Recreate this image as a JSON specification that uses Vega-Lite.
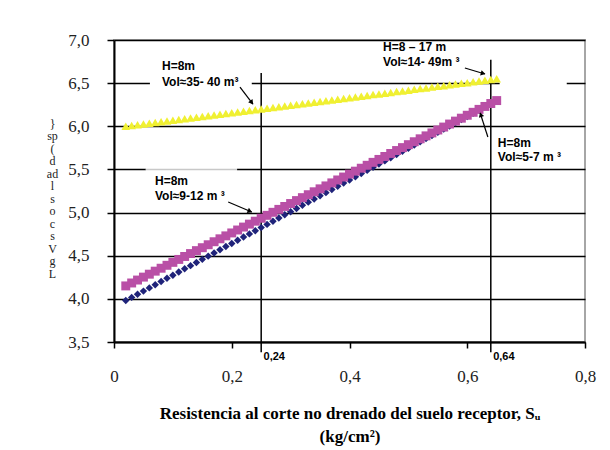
{
  "$schema": "https://vega.github.io/schema/vega-lite/v6.json",
  "width": 471,
  "height": 302,
  "autosize": "none",
  "padding": {"left": 114, "top": 40, "right": 25, "bottom": 108},
  "background": "white",
  "config": {"view": {"stroke": "#a6a6a6", "strokeWidth": 2}},
  "datasets": {
    "boxes": [
      {"x": 0.061, "x2": 0.234, "y": 6.79, "y2": 6.42},
      {"x": 0.655, "x2": 0.769, "y": 6.46, "y2": 6.54},
      {"x": 0.655, "x2": 0.79, "y": 5.95, "y2": 5.55},
      {"x": 0.054, "x2": 0.209, "y": 5.52, "y2": 5.15}
    ],
    "grayline": [{"x": 0.054, "x2": 0.209, "y": 5.5}],
    "vrules": [
      {"x": 0.25, "y": 6.618, "y2": 3.38},
      {"x": 0.64, "y": 6.77, "y2": 3.38}
    ],
    "navy": [
      {"x":0.02,"y":3.980},{"x":0.03,"y":4.017},{"x":0.04,"y":4.054},{"x":0.05,"y":4.090},{"x":0.06,"y":4.127},{"x":0.07,"y":4.164},{"x":0.08,"y":4.201},{"x":0.09,"y":4.238},{"x":0.10,"y":4.274},{"x":0.11,"y":4.311},
      {"x":0.12,"y":4.348},{"x":0.13,"y":4.385},{"x":0.14,"y":4.422},{"x":0.15,"y":4.458},{"x":0.16,"y":4.495},{"x":0.17,"y":4.532},{"x":0.18,"y":4.569},{"x":0.19,"y":4.606},{"x":0.20,"y":4.642},{"x":0.21,"y":4.679},
      {"x":0.22,"y":4.716},{"x":0.23,"y":4.753},{"x":0.24,"y":4.790},{"x":0.25,"y":4.826},{"x":0.26,"y":4.863},{"x":0.27,"y":4.900},{"x":0.28,"y":4.937},{"x":0.29,"y":4.974},{"x":0.30,"y":5.010},{"x":0.31,"y":5.047},
      {"x":0.32,"y":5.084},{"x":0.33,"y":5.121},{"x":0.34,"y":5.158},{"x":0.35,"y":5.194},{"x":0.36,"y":5.231},{"x":0.37,"y":5.268},{"x":0.38,"y":5.305},{"x":0.39,"y":5.342},{"x":0.40,"y":5.378},{"x":0.41,"y":5.415},
      {"x":0.42,"y":5.452},{"x":0.43,"y":5.489},{"x":0.44,"y":5.526},{"x":0.45,"y":5.562},{"x":0.46,"y":5.599},{"x":0.47,"y":5.636},{"x":0.48,"y":5.673},{"x":0.49,"y":5.710},{"x":0.50,"y":5.746},{"x":0.51,"y":5.783},
      {"x":0.52,"y":5.820},{"x":0.53,"y":5.857},{"x":0.54,"y":5.894},{"x":0.55,"y":5.930},{"x":0.56,"y":5.967},{"x":0.57,"y":6.004},{"x":0.58,"y":6.041},{"x":0.59,"y":6.078},{"x":0.60,"y":6.114},{"x":0.61,"y":6.151},
      {"x":0.62,"y":6.188},{"x":0.63,"y":6.225},{"x":0.64,"y":6.262}
    ],
    "pink": [
      {"x":0.02,"y":4.150},{"x":0.03,"y":4.184},{"x":0.04,"y":4.218},{"x":0.05,"y":4.252},{"x":0.06,"y":4.286},{"x":0.07,"y":4.321},{"x":0.08,"y":4.355},{"x":0.09,"y":4.389},{"x":0.10,"y":4.423},{"x":0.11,"y":4.457},
      {"x":0.12,"y":4.491},{"x":0.13,"y":4.525},{"x":0.14,"y":4.559},{"x":0.15,"y":4.593},{"x":0.16,"y":4.627},{"x":0.17,"y":4.662},{"x":0.18,"y":4.696},{"x":0.19,"y":4.730},{"x":0.20,"y":4.764},{"x":0.21,"y":4.798},
      {"x":0.22,"y":4.832},{"x":0.23,"y":4.866},{"x":0.24,"y":4.900},{"x":0.25,"y":4.934},{"x":0.26,"y":4.968},{"x":0.27,"y":5.003},{"x":0.28,"y":5.037},{"x":0.29,"y":5.071},{"x":0.30,"y":5.105},{"x":0.31,"y":5.139},
      {"x":0.32,"y":5.173},{"x":0.33,"y":5.207},{"x":0.34,"y":5.241},{"x":0.35,"y":5.275},{"x":0.36,"y":5.309},{"x":0.37,"y":5.344},{"x":0.38,"y":5.378},{"x":0.39,"y":5.412},{"x":0.40,"y":5.446},{"x":0.41,"y":5.480},
      {"x":0.42,"y":5.514},{"x":0.43,"y":5.548},{"x":0.44,"y":5.582},{"x":0.45,"y":5.616},{"x":0.46,"y":5.650},{"x":0.47,"y":5.685},{"x":0.48,"y":5.719},{"x":0.49,"y":5.753},{"x":0.50,"y":5.787},{"x":0.51,"y":5.821},
      {"x":0.52,"y":5.855},{"x":0.53,"y":5.889},{"x":0.54,"y":5.923},{"x":0.55,"y":5.957},{"x":0.56,"y":5.991},{"x":0.57,"y":6.026},{"x":0.58,"y":6.060},{"x":0.59,"y":6.094},{"x":0.60,"y":6.128},{"x":0.61,"y":6.162},
      {"x":0.62,"y":6.196},{"x":0.63,"y":6.230},{"x":0.64,"y":6.264},{"x":0.65,"y":6.298}
    ],
    "yellow": [
      {"x":0.02,"y":6.000},{"x":0.03,"y":6.009},{"x":0.04,"y":6.017},{"x":0.05,"y":6.026},{"x":0.06,"y":6.035},{"x":0.07,"y":6.044},{"x":0.08,"y":6.052},{"x":0.09,"y":6.061},{"x":0.10,"y":6.070},{"x":0.11,"y":6.079},
      {"x":0.12,"y":6.087},{"x":0.13,"y":6.096},{"x":0.14,"y":6.105},{"x":0.15,"y":6.113},{"x":0.16,"y":6.122},{"x":0.17,"y":6.131},{"x":0.18,"y":6.140},{"x":0.19,"y":6.148},{"x":0.20,"y":6.157},{"x":0.21,"y":6.166},
      {"x":0.22,"y":6.175},{"x":0.23,"y":6.183},{"x":0.24,"y":6.192},{"x":0.25,"y":6.201},{"x":0.26,"y":6.210},{"x":0.27,"y":6.218},{"x":0.28,"y":6.227},{"x":0.29,"y":6.236},{"x":0.30,"y":6.244},{"x":0.31,"y":6.253},
      {"x":0.32,"y":6.262},{"x":0.33,"y":6.271},{"x":0.34,"y":6.279},{"x":0.35,"y":6.288},{"x":0.36,"y":6.297},{"x":0.37,"y":6.306},{"x":0.38,"y":6.314},{"x":0.39,"y":6.323},{"x":0.40,"y":6.332},{"x":0.41,"y":6.340},
      {"x":0.42,"y":6.349},{"x":0.43,"y":6.358},{"x":0.44,"y":6.367},{"x":0.45,"y":6.375},{"x":0.46,"y":6.384},{"x":0.47,"y":6.393},{"x":0.48,"y":6.402},{"x":0.49,"y":6.410},{"x":0.50,"y":6.419},{"x":0.51,"y":6.428},
      {"x":0.52,"y":6.437},{"x":0.53,"y":6.445},{"x":0.54,"y":6.454},{"x":0.55,"y":6.463},{"x":0.56,"y":6.471},{"x":0.57,"y":6.480},{"x":0.58,"y":6.489},{"x":0.59,"y":6.498},{"x":0.60,"y":6.506},{"x":0.61,"y":6.515},
      {"x":0.62,"y":6.524},{"x":0.63,"y":6.533},{"x":0.64,"y":6.541},{"x":0.65,"y":6.550}
    ],
    "arrows": [
      {"x": 0.214, "y": 6.455, "x2": 0.236, "y2": 6.258},
      {"x": 0.596, "y": 6.676, "x2": 0.630, "y2": 6.606},
      {"x": 0.635, "y": 5.876, "x2": 0.622, "y2": 6.154},
      {"x": 0.194, "y": 5.123, "x2": 0.234, "y2": 5.007}
    ],
    "heads": [
      {"x": 0.234, "y": 6.275, "a": 142.6},
      {"x": 0.627, "y": 6.612, "a": 105.3},
      {"x": 0.623, "y": 6.135, "a": 341.6},
      {"x": 0.231, "y": 5.015, "a": 112.6}
    ],
    "labels": [
      {"x": 0.0815, "y": 6.699, "t": "H=8m"},
      {"x": 0.0815, "y": 6.513, "t": "Vol≈35- 40 m³"},
      {"x": 0.457, "y": 6.919, "t": "H=8 – 17 m"},
      {"x": 0.457, "y": 6.745, "t": "Vol≈14- 49m ³"},
      {"x": 0.652, "y": 5.806, "t": "H=8m"},
      {"x": 0.652, "y": 5.644, "t": "Vol≈5-7 m ³"},
      {"x": 0.0696, "y": 5.366, "t": "H=8m"},
      {"x": 0.0696, "y": 5.192, "t": "Vol≈9-12 m ³"}
    ],
    "ticklabels": [
      {"x": 0.254, "y": 3.40, "t": "0,24"},
      {"x": 0.644, "y": 3.40, "t": "0,64"}
    ]
  },
  "encoding": {
    "x": {
      "field": "x", "type": "quantitative",
      "scale": {"domain": [0, 0.8], "nice": false, "zero": false},
      "axis": {
        "values": [0, 0.2, 0.4, 0.6, 0.8],
        "labelExpr": "datum.value == 0 ? '0' : replace(format(datum.value, '.1f'), '.', ',')",
        "grid": false,
        "domainColor": "black", "domainWidth": 2,
        "tickColor": "black", "tickSize": 6, "tickWidth": 1.5,
        "labelFont": "Liberation Serif", "labelFontSize": 17, "labelColor": "#222222", "labelPadding": 20,
        "labelFlush": false,
        "title": ["Resistencia al corte no drenado del suelo receptor, Sᵤ", "(kg/cm²)"],
        "titleFont": "Liberation Serif", "titleFontSize": 17, "titleFontWeight": "bold", "titleColor": "black",
        "titleY": 76, "titleBaseline": "alphabetic", "titleLineHeight": 23
      }
    },
    "y": {
      "field": "y", "type": "quantitative",
      "scale": {"domain": [3.5, 7], "nice": false, "zero": false},
      "axis": {
        "values": [3.5, 4, 4.5, 5, 5.5, 6, 6.5, 7],
        "labelExpr": "replace(format(datum.value, '.1f'), '.', ',')",
        "grid": true, "gridColor": "black", "gridWidth": 1.4,
        "domainColor": "black", "domainWidth": 2,
        "tickColor": "black", "tickSize": 7, "tickWidth": 1.5,
        "labelFont": "Liberation Serif", "labelFontSize": 17, "labelColor": "#222222", "labelPadding": 18,
        "labelFlush": false,
        "title": ["}", "sp", "(", "d", "ad", "l", "s", "o", "c", "s", "V", "g", "L"],
        "titleAngle": 0, "titleX": -62, "titleY": 78, "titleAlign": "center", "titleBaseline": "top",
        "titleFont": "Liberation Serif", "titleFontSize": 12, "titleFontWeight": "normal", "titleColor": "#222222",
        "titleLineHeight": 12.5
      }
    }
  },
  "layer": [
    {
      "data": {"name": "boxes"},
      "mark": {"type": "rect", "fill": "white", "stroke": null},
      "encoding": {"x2": {"field": "x2"}, "y2": {"field": "y2"}}
    },
    {
      "data": {"name": "grayline"},
      "mark": {"type": "rule", "color": "#c8c8c8", "strokeWidth": 1.5},
      "encoding": {"x2": {"field": "x2"}}
    },
    {
      "data": {"name": "vrules"},
      "mark": {"type": "rule", "color": "black", "strokeWidth": 1.5},
      "encoding": {"y2": {"field": "y2"}}
    },
    {
      "data": {"name": "navy"},
      "mark": {"type": "point", "shape": "diamond", "filled": true, "color": "#1f237a", "size": 55, "opacity": 1},
      "encoding": {}
    },
    {
      "data": {"name": "pink"},
      "mark": {"type": "point", "shape": "square", "filled": true, "color": "#b94fa6", "size": 80, "opacity": 1},
      "encoding": {}
    },
    {
      "data": {"name": "yellow"},
      "mark": {"type": "point", "shape": "triangle-up", "filled": true, "color": "#f0f032", "size": 75, "opacity": 1},
      "encoding": {}
    },
    {
      "data": {"name": "arrows"},
      "mark": {"type": "rule", "color": "black", "strokeWidth": 1.2},
      "encoding": {"x2": {"field": "x2"}, "y2": {"field": "y2"}}
    },
    {
      "data": {"name": "heads"},
      "mark": {"type": "point", "shape": "triangle-up", "filled": true, "color": "black", "size": 30, "opacity": 1},
      "encoding": {"angle": {"field": "a", "type": "quantitative", "scale": null}}
    },
    {
      "data": {"name": "labels"},
      "mark": {"type": "text", "align": "left", "baseline": "middle", "font": "Liberation Sans", "fontSize": 12, "fontWeight": "bold", "color": "black"},
      "encoding": {"text": {"field": "t"}}
    },
    {
      "data": {"name": "ticklabels"},
      "mark": {"type": "text", "align": "left", "baseline": "top", "font": "Liberation Sans", "fontSize": 11, "fontWeight": "bold", "color": "black"},
      "encoding": {"text": {"field": "t"}}
    }
  ]
}
